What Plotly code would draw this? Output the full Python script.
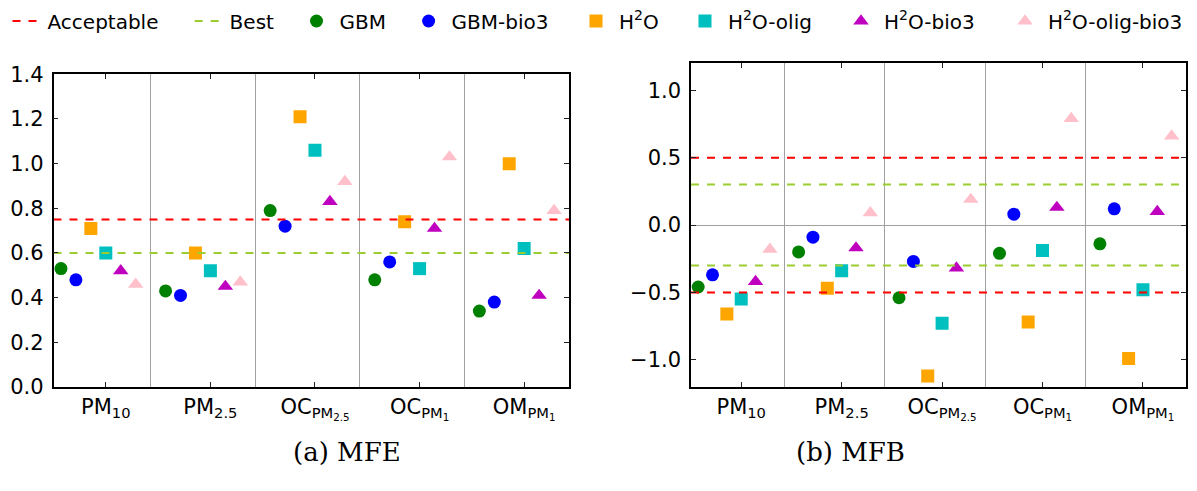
import numpy as np
import plotly.graph_objects as go

categories = ["PM<sub>10</sub>", "PM<sub>2.5</sub>", "OC<sub>PM<sub>2.5</sub></sub>",
              "OC<sub>PM<sub>1</sub></sub>", "OM<sub>PM<sub>1</sub></sub>"]

series_names = ["GBM", "GBM-bio3", "H<sup>2</sup>O", "H<sup>2</sup>O-olig",
                "H<sup>2</sup>O-bio3", "H<sup>2</sup>O-olig-bio3"]

# MFE values (left panel)
mfe_gbm = [0.53, 0.43, 0.79, 0.48, 0.34]
mfe_gbm_bio3 = [0.48, 0.41, 0.72, 0.56, 0.38]
mfe_h2o = [0.71, 0.60, 1.21, 0.74, 1.00]
mfe_h2o_olig = [0.60, 0.52, 1.06, 0.53, 0.62]
mfe_h2o_bio3 = [0.52, 0.45, 0.83, 0.71, 0.41]
mfe_h2o_olig_bio3 = [0.46, 0.47, 0.92, 1.03, 0.79]

# MFB values (right panel)
mfb_gbm = [-0.46, -0.20, -0.54, -0.21, -0.14]
mfb_gbm_bio3 = [-0.37, -0.09, -0.27, 0.08, 0.12]
mfb_h2o = [-0.66, -0.47, -1.12, -0.72, -0.99]
mfb_h2o_olig = [-0.55, -0.34, -0.73, -0.19, -0.48]
mfb_h2o_bio3 = [-0.42, -0.17, -0.32, 0.13, 0.10]
mfb_h2o_olig_bio3 = [-0.18, 0.09, 0.19, 0.79, 0.66]

# Goal / criteria thresholds
mfe_acceptable = 0.75
mfe_best = 0.60
mfb_acceptable = 0.5
mfb_best = 0.3

mfe_data = [mfe_gbm, mfe_gbm_bio3, mfe_h2o, mfe_h2o_olig, mfe_h2o_bio3, mfe_h2o_olig_bio3]
mfb_data = [mfb_gbm, mfb_gbm_bio3, mfb_h2o, mfb_h2o_olig, mfb_h2o_bio3, mfb_h2o_olig_bio3]

colors = ["#008000", "#0000FF", "#FFA500", "#00BFBF", "#BF00BF", "#FFC0CB"]
symbols = ["circle", "circle", "square", "square", "triangle-up", "triangle-up"]
sizes = [13, 13, 13, 13, 13.5, 13.5]

# legend entry text start positions (pixels, page coordinates), one per entry
legend_text_x = [47.5, 229.6, 339.5, 451.6, 619, 728, 884, 1048]
legend_item_w = [30, 30, 36, 36, 36, 36, 36, 36]

n = len(categories)
idx = np.arange(n)
step = 1.0 / 7
x_range = [-0.5, n - 1 + 3 * step]
separators = list(idx[:-1] + 3 * step)

FONT = "DejaVu Sans"
W, H = 1197, 491
OFF = 8  # default page body margin of the written HTML
TICK = 21


def fx(x):
    return (x - OFF) / W


def fy(y):
    return 1 - (y - OFF) / H


def legend_id(i):
    return "legend" if i == 0 else f"legend{i + 1}"


fig = go.Figure()

for k, name in enumerate(series_names):
    off = (k - 3) * step
    for panel, data in (("1", mfe_data), ("2", mfb_data)):
        fig.add_trace(go.Scatter(
            x=idx + off, y=data[k], mode="markers", name=name,
            legendgroup=name, showlegend=(panel == "1"), legend=legend_id(k + 2),
            marker=dict(color=colors[k], symbol=symbols[k], size=sizes[k], line=dict(width=0)),
            xaxis="x" if panel == "1" else "x2", yaxis="y" if panel == "1" else "y2",
        ))

dash = "8px,8px"
# Acceptable lines
fig.add_trace(go.Scatter(x=x_range, y=[mfe_acceptable] * 2, mode="lines", name="Acceptable",
                         legendgroup="acc", legend=legend_id(0),
                         line=dict(color="#FF0000", dash=dash, width=2), xaxis="x", yaxis="y"))
fig.add_trace(go.Scatter(x=x_range + [None] + x_range,
                         y=[mfb_acceptable] * 2 + [None] + [-mfb_acceptable] * 2,
                         mode="lines", name="Acceptable", legendgroup="acc", showlegend=False,
                         line=dict(color="#FF0000", dash=dash, width=2), xaxis="x2", yaxis="y2"))
# Best lines
fig.add_trace(go.Scatter(x=x_range, y=[mfe_best] * 2, mode="lines", name="Best",
                         legendgroup="best", legend=legend_id(1),
                         line=dict(color="#9ACD32", dash=dash, width=2), xaxis="x", yaxis="y"))
fig.add_trace(go.Scatter(x=x_range + [None] + x_range,
                         y=[mfb_best] * 2 + [None] + [-mfb_best] * 2,
                         mode="lines", name="Best", legendgroup="best", showlegend=False,
                         line=dict(color="#9ACD32", dash=dash, width=2), xaxis="x2", yaxis="y2"))

xaxis_common = dict(
    range=x_range, tickmode="array", tickvals=list(idx), ticktext=categories,
    showline=True, linecolor="black", linewidth=1.5, mirror="ticks",
    ticks="inside", ticklen=5, tickcolor="#222", showgrid=False, zeroline=False,
    tickfont=dict(family=FONT, size=TICK, color="black"), automargin=False,
    minor=dict(tickmode="array", tickvals=separators, showgrid=True,
               gridcolor="#A0A0A0", gridwidth=1, ticks=""),
)
yaxis_common = dict(
    showline=True, linecolor="black", linewidth=1.5, mirror="ticks",
    ticks="inside", ticklen=5, tickcolor="#222", showgrid=False,
    tickfont=dict(family=FONT, size=TICK, color="black"), tickformat=".1f",
    ticklabelstandoff=4, automargin=False,
)

legends = {}
for i, tx in enumerate(legend_text_x):
    iw = legend_item_w[i]
    legends[legend_id(i)] = dict(
        orientation="h", x=fx(tx - (iw + 10)), xanchor="left", y=fy(21), yanchor="middle",
        font=dict(family=FONT, size=20), bgcolor="rgba(0,0,0,0)", itemwidth=iw,
        borderwidth=0,
    )

fig.update_layout(
    width=W, height=H, margin=dict(l=0, r=0, t=0, b=0, autoexpand=False),
    paper_bgcolor="white", plot_bgcolor="white",
    font=dict(family=FONT, size=TICK, color="black"),
    xaxis=dict(domain=[fx(53.5), fx(569)], anchor="y", **xaxis_common),
    yaxis=dict(domain=[fy(387), fy(74.3)], anchor="x", range=[0, 1.4], dtick=0.2,
               zeroline=False, **yaxis_common),
    xaxis2=dict(domain=[fx(691), fx(1186)], anchor="y2", **xaxis_common),
    yaxis2=dict(domain=[fy(386.7), fy(63.3)], anchor="x2", range=[-1.2, 1.2],
                tickvals=[-1.0, -0.5, 0.0, 0.5, 1.0], zeroline=True,
                zerolinecolor="#A0A0A0", zerolinewidth=1, **yaxis_common),
    showlegend=True,
    annotations=[
        dict(text="(a) MFE", x=fx(291), y=fy(469), xref="paper", yref="paper",
             showarrow=False, font=dict(family="DejaVu Serif", size=26, color="black")),
        dict(text="(b) MFB", x=fx(907), y=fy(469), xref="paper", yref="paper",
             showarrow=False, font=dict(family="DejaVu Serif", size=26, color="black")),
    ],
    **legends,
)

fig.write_html("out.html")
